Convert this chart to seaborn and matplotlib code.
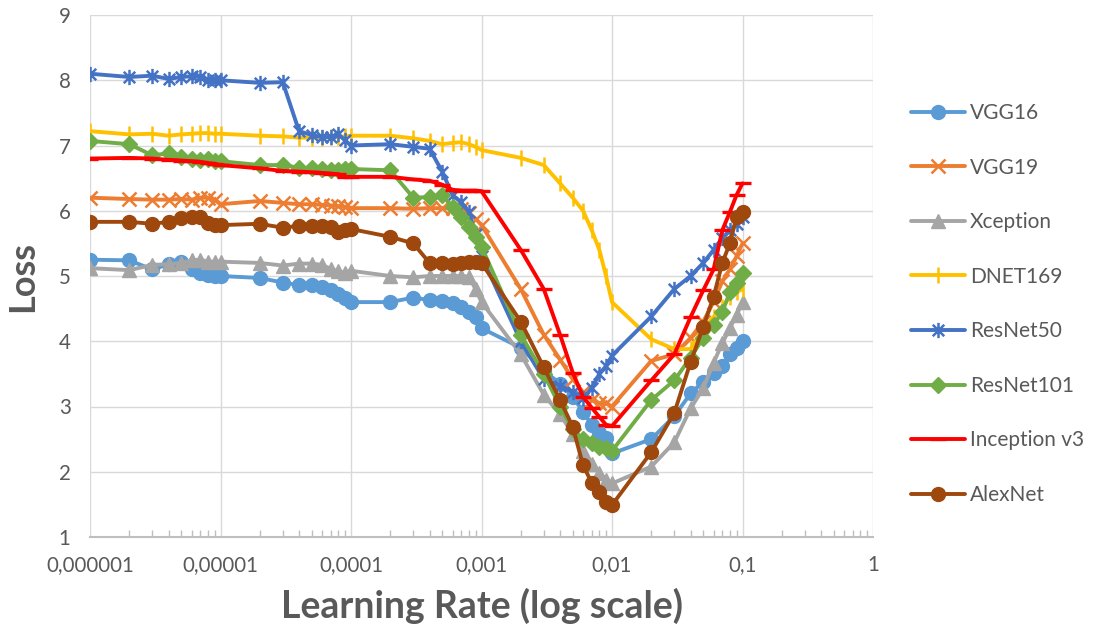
import numpy as np
import pandas as pd
import matplotlib
matplotlib.use("Agg")
import matplotlib.pyplot as plt
from matplotlib.path import Path
from matplotlib.ticker import FixedLocator, NullFormatter
import seaborn as sns

# Learning rates tested (1..9 x each decade, up to 0.1)
learning_rates = [
    1e-6, 2e-6, 3e-6, 4e-6, 5e-6, 6e-6, 7e-6, 8e-6, 9e-6,
    1e-5, 2e-5, 3e-5, 4e-5, 5e-5, 6e-5, 7e-5, 8e-5, 9e-5,
    1e-4, 2e-4, 3e-4, 4e-4, 5e-4, 6e-4, 7e-4, 8e-4, 9e-4,
    1e-3, 2e-3, 3e-3, 4e-3, 5e-3, 6e-3, 7e-3, 8e-3, 9e-3,
    1e-2, 2e-2, 3e-2, 4e-2, 5e-2, 6e-2, 7e-2, 8e-2, 9e-2,
    1e-1,
]

vgg16 = [
    5.25, 5.24, 5.10, 5.18, 5.21, 5.10, 5.05, 5.02, 5.00,
    5.00, 4.97, 4.90, 4.86, 4.86, 4.83, 4.79, 4.72, 4.66,
    4.60, 4.60, 4.67, 4.63, 4.62, 4.58, 4.52, 4.45, 4.37,
    4.20, 3.90, 3.55, 3.35, 3.15, 2.92, 2.72, 2.60, 2.52,
    2.28, 2.50, 2.85, 3.20, 3.38, 3.52, 3.62, 3.80, 3.90,
    4.00,
]
vgg19 = [
    6.20, 6.18, 6.17, 6.17, 6.18, 6.17, 6.20, 6.20, 6.17,
    6.10, 6.15, 6.12, 6.10, 6.10, 6.09, 6.08, 6.07, 6.06,
    6.04, 6.04, 6.03, 6.04, 6.04, 6.04, 6.02, 5.96, 5.88,
    5.78, 4.80, 4.10, 3.72, 3.42, 3.22, 3.10, 3.05, 3.05,
    3.00, 3.70, 3.80, 4.05, 4.30, 4.60, 4.92, 5.10, 5.30,
    5.50,
]
xception = [
    5.12, 5.09, 5.17, 5.18, 5.20, 5.24, 5.25, 5.22, 5.22,
    5.22, 5.20, 5.16, 5.19, 5.19, 5.17, 5.11, 5.07, 5.05,
    5.08, 5.00, 4.98, 5.00, 5.00, 5.00, 5.00, 4.99, 4.80,
    4.60, 3.80, 3.18, 2.88, 2.58, 2.32, 2.12, 1.98, 1.88,
    1.82, 2.08, 2.45, 2.97, 3.28, 3.67, 3.97, 4.20, 4.40,
    4.60,
]
dnet169 = [
    7.22, 7.17, 7.18, 7.15, 7.17, 7.18, 7.19, 7.19, 7.18,
    7.18, 7.15, 7.14, 7.12, 7.12, 7.12, 7.13, 7.13, 7.14,
    7.15, 7.15, 7.11, 7.07, 7.02, 7.04, 7.05, 7.02, 6.98,
    6.93, 6.81, 6.70, 6.42, 6.20, 6.00, 5.70, 5.40, 5.00,
    4.60, 4.03, 3.88, 3.88, 4.20, 4.37, 4.52, 4.68, 4.75,
    4.80,
]
resnet50 = [
    8.10, 8.05, 8.07, 8.02, 8.05, 8.06, 8.05, 8.00, 8.00,
    8.00, 7.96, 7.97, 7.22, 7.16, 7.13, 7.13, 7.17, 7.08,
    7.00, 7.02, 6.98, 6.95, 6.60, 6.24, 6.13, 5.98, 5.65,
    5.30, 4.00, 3.42, 3.32, 3.22, 3.13, 3.28, 3.50, 3.62,
    3.78, 4.38, 4.80, 5.00, 5.20, 5.40, 5.58, 5.70, 5.80,
    5.90,
]
resnet101 = [
    7.07, 7.02, 6.85, 6.88, 6.83, 6.80, 6.78, 6.79, 6.77,
    6.76, 6.70, 6.70, 6.66, 6.65, 6.64, 6.63, 6.63, 6.64,
    6.64, 6.62, 6.20, 6.21, 6.24, 6.06, 5.90, 5.75, 5.60,
    5.45, 4.10, 3.50, 3.00, 2.65, 2.50, 2.44, 2.38, 2.36,
    2.32, 3.10, 3.40, 3.75, 4.05, 4.25, 4.45, 4.75, 4.90,
    5.05,
]
inception_v3 = [
    6.80, 6.81, 6.80, 6.78, 6.77, 6.76, 6.75, 6.73, 6.72,
    6.70, 6.65, 6.61, 6.60, 6.59, 6.58, 6.57, 6.56, 6.52,
    6.52, 6.52, 6.48, 6.46, 6.40, 6.32, 6.31, 6.31, 6.31,
    6.30, 5.40, 4.80, 4.10, 3.52, 3.15, 2.98, 2.84, 2.72,
    2.70, 3.40, 3.80, 4.37, 4.78, 5.10, 5.70, 5.98, 6.24,
    6.42,
]
alexnet = [
    5.83, 5.83, 5.80, 5.83, 5.89, 5.90, 5.90, 5.81, 5.78,
    5.78, 5.80, 5.74, 5.77, 5.77, 5.77, 5.75, 5.68, 5.70,
    5.72, 5.60, 5.50, 5.20, 5.20, 5.18, 5.20, 5.22, 5.22,
    5.20, 4.30, 3.60, 3.10, 2.69, 2.10, 1.83, 1.69, 1.54,
    1.49, 2.30, 2.90, 3.68, 4.22, 4.68, 5.20, 5.50, 5.90,
    5.98,
]

model_names = ["VGG16", "VGG19", "Xception", "DNET169",
               "ResNet50", "ResNet101", "Inception v3", "AlexNet"]
model_losses = [vgg16, vgg19, xception, dnet169,
                resnet50, resnet101, inception_v3, alexnet]

x_tick_values = [1e-6, 1e-5, 1e-4, 1e-3, 1e-2, 1e-1, 1]
x_tick_labels = ["0,000001", "0,00001", "0,0001", "0,001", "0,01", "0,1", "1"]
y_tick_values = [1, 2, 3, 4, 5, 6, 7, 8, 9]

# Excel-like star marker: vertical bar plus an X
star_path = Path(
    [(0, -1), (0, 1), (-0.75, -0.75), (0.75, 0.75), (-0.75, 0.75), (0.75, -0.75)],
    [Path.MOVETO, Path.LINETO, Path.MOVETO, Path.LINETO, Path.MOVETO, Path.LINETO],
)

styles = {
    "VGG16":        dict(color="#5B9BD5", marker="o", ms=10.0, mew=1.0),
    "VGG19":        dict(color="#ED7D31", marker="x", ms=9.5, mew=1.8),
    "Xception":     dict(color="#A5A5A5", marker="^", ms=10.0, mew=1.0),
    "DNET169":      dict(color="#FFC000", marker="|", ms=11.5, mew=1.8),
    "ResNet50":     dict(color="#4472C4", marker=star_path, ms=11.0, mew=1.8),
    "ResNet101":    dict(color="#70AD47", marker="D", ms=8.5, mew=1.0),
    "Inception v3": dict(color="#FF0000", marker="_", ms=11.5, mew=2.4),
    "AlexNet":      dict(color="#9E480E", marker="o", ms=10.0, mew=1.0),
}

df = pd.DataFrame({"lr": learning_rates})
for name, losses in zip(model_names, model_losses):
    df[name] = losses

sns.set_style("white")
plt.rcParams["font.family"] = ["Lato", "DejaVu Sans"]
text_color = "#595959"

fig = plt.figure(figsize=(11.19, 6.35), dpi=100)
ax = fig.add_axes([90 / 1119, 1 - 537 / 635, (873 - 90) / 1119, (537 - 15) / 635])

for name in model_names:
    st = styles[name]
    sns.lineplot(
        data=df, x="lr", y=name, ax=ax, label=name,
        color=st["color"], linewidth=2.8,
        marker=st["marker"], markersize=st["ms"],
        markeredgewidth=st["mew"], markeredgecolor=st["color"],
        markerfacecolor=st["color"], zorder=3,
    )

ax.set_xscale("log")
ax.set_xlim(1e-6, 1)
ax.set_ylim(1, 9)

ax.xaxis.set_major_locator(FixedLocator(x_tick_values))
ax.set_xticklabels(x_tick_labels)
minor = [m * 10.0 ** k for k in range(-6, 0) for m in range(2, 10)]
ax.xaxis.set_minor_locator(FixedLocator(minor))
ax.xaxis.set_minor_formatter(NullFormatter())
ax.set_yticks(y_tick_values)
ax.set_yticklabels([str(v) for v in y_tick_values])

ax.grid(True, which="major", color="#D9D9D9", linewidth=1.0, zorder=0)
ax.set_axisbelow(True)
for side in ["left", "right", "top"]:
    ax.spines[side].set_visible(False)
ax.spines["bottom"].set_color("#BFBFBF")
ax.spines["bottom"].set_linewidth(1.5)

ax.tick_params(axis="x", which="major", length=0, pad=13, labelsize=14.8, labelcolor=text_color)
ax.tick_params(axis="x", which="minor", direction="in", length=5, width=1.0,
               color="#BFBFBF", bottom=True)
ax.tick_params(axis="y", which="major", length=0, pad=14, labelsize=14.8, labelcolor=text_color)

ax.set_xlabel("Learning Rate (log scale)", fontsize=27, fontweight="bold",
              color=text_color, labelpad=9)
ax.set_ylabel("Loss", fontsize=26, fontweight="bold", color=text_color, labelpad=14)

handles, labels = ax.get_legend_handles_labels()
ax.get_legend().remove()
fig.legend(handles, labels, loc="center left", bbox_to_anchor=(892 / 1119, 1 - 304 / 635),
           frameon=False, fontsize=15, labelcolor=text_color,
           handlelength=2.6, handletextpad=0.25, labelspacing=1.66)

fig.savefig("out.png", dpi=100)
